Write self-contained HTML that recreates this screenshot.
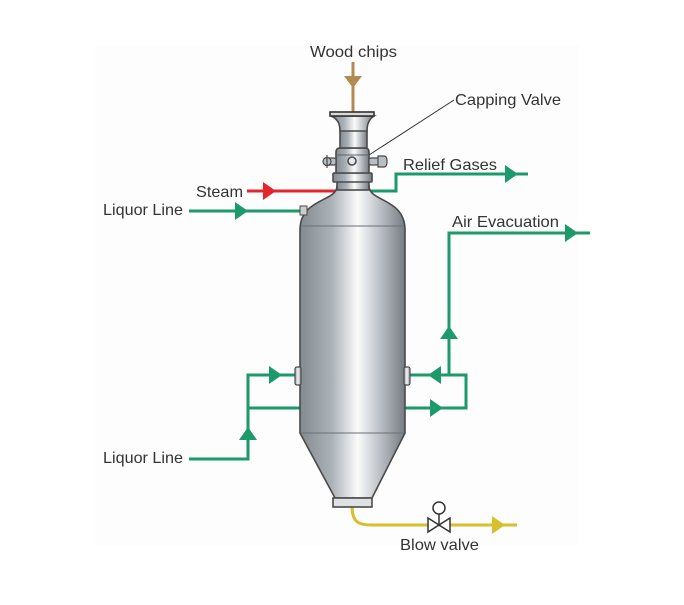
<!DOCTYPE html>
<html>
<head>
<meta charset="utf-8">
<style>
  html, body { margin:0; padding:0; background:#ffffff; }
  body { width:684px; height:600px; overflow:hidden; }
  svg text { font-family: "Liberation Sans", Arial, sans-serif; font-size:16px; fill:#333333; }
</style>
</head>
<body>
<svg width="684" height="600" viewBox="0 0 684 600" xmlns="http://www.w3.org/2000/svg">
  <defs>
    <linearGradient id="metal" x1="0" y1="0" x2="1" y2="0">
      <stop offset="0" stop-color="#838a91"/>
      <stop offset="0.3" stop-color="#aab1b7"/>
      <stop offset="0.55" stop-color="#fbfbfb"/>
      <stop offset="0.7" stop-color="#cdd2d6"/>
      <stop offset="1" stop-color="#747b82"/>
    </linearGradient>
    <linearGradient id="metal2" x1="0" y1="0" x2="1" y2="0">
      <stop offset="0" stop-color="#9aa1a7"/>
      <stop offset="0.5" stop-color="#f4f5f6"/>
      <stop offset="1" stop-color="#8a9197"/>
    </linearGradient>
  </defs>

  <rect x="95" y="45" width="484" height="500" fill="#fdfdfd"/>

  <!-- ===== Pipes (drawn under vessel) ===== -->
  <g fill="none" stroke-width="3" stroke-linejoin="miter">
    <line x1="353" y1="62" x2="353" y2="113" stroke="#b48a52"/>
    <line x1="247" y1="191" x2="338" y2="191" stroke="#e4262b"/>
    <line x1="189" y1="211" x2="302" y2="211" stroke="#1d9a6c"/>
    <polyline points="368,191 396,191 396,174 528,174" stroke="#1d9a6c"/>
    <polyline points="449,375 449,233 590,233" stroke="#1d9a6c"/>
    <polyline points="408,375 466,375 466,408 403,408" stroke="#1d9a6c"/>
    <polyline points="189,459 248,459 248,375 297,375" stroke="#1d9a6c"/>
    <line x1="248" y1="408" x2="302" y2="408" stroke="#1d9a6c"/>
    <path d="M352,506 C352,522 358,525 372,525 L517,525" stroke="#d8bf2c"/>
  </g>

  <!-- ===== Arrowheads ===== -->
  <g>
    <polygon points="344,76 362,76 353,88" fill="#b48a52"/>
    <polygon points="263,182 263,200 276,191" fill="#e4262b"/>
    <g fill="#1d9a6c">
      <polygon points="235,202 235,220 248,211"/>
      <polygon points="505,165 505,183 518,174"/>
      <polygon points="565,224 565,242 578,233"/>
      <polygon points="440,339 458,339 449,326"/>
      <polygon points="441,366 441,384 428,375"/>
      <polygon points="430,399 430,417 443,408"/>
      <polygon points="269,366 269,384 282,375"/>
      <polygon points="239,440 257,440 248,427"/>
    </g>
    <polygon points="492,516 492,534 505,525" fill="#d8bf2c"/>
  </g>

  <!-- ===== Vessel ===== -->
  <g stroke="#4a4a4a" stroke-width="1.6">
    <path d="M337,186 C337,202 300,198 300,230 L300,433 L335,498 L372,498 L405,433 L405,230 C405,198 369,202 369,186 Z" fill="url(#metal)"/>
    <line x1="302" y1="226" x2="403" y2="226" stroke="#6a7077" stroke-width="1"/>
    <line x1="301" y1="433" x2="404" y2="433" stroke="#6a7077" stroke-width="1"/>
    <rect x="333" y="498" width="39" height="9" fill="#dfe1e3"/>
    <rect x="337" y="181" width="32" height="9" fill="url(#metal)"/>
    <rect x="333" y="173" width="39" height="9" rx="1" fill="url(#metal)"/>
    <path d="M336,173 L336,152 Q336,148 340,148 L365,148 Q369,148 369,152 L369,173 Z" fill="url(#metal)"/>
    <line x1="336" y1="155" x2="369" y2="155" stroke="#5a6066" stroke-width="1"/>
    <circle cx="352" cy="161" r="4" fill="#e8eaec"/>
    <rect x="340" y="130" width="27" height="18" fill="url(#metal)"/>
    <path d="M331,116 C338,119 340,124 340,131 L367,131 C367,124 369,119 374,116 Z" fill="url(#metal)"/>
    <rect x="330" y="112" width="44" height="4" fill="#d8dadc" stroke="#333"/>
    <rect x="295" y="367" width="6" height="18" rx="2" fill="url(#metal2)" stroke-width="1.2"/>
    <rect x="404" y="367" width="6" height="18" rx="2" fill="url(#metal2)" stroke-width="1.2"/>
    <rect x="300" y="206" width="7" height="9" fill="#c9cdd0" stroke-width="1"/>
  </g>

  <!-- handwheels on capping valve -->
  <g stroke="#4a4a4a" stroke-width="1.2" fill="#b9bec3">
    <rect x="324" y="158" width="12" height="7" rx="2"/>
    <circle cx="327" cy="161.5" r="4"/>
    <line x1="327" y1="155" x2="327" y2="168"/>
    <rect x="369" y="158" width="10" height="7" rx="2"/>
    <path d="M378,156 L384,156 Q387,156 387,161.5 Q387,167 384,167 L378,167 Z"/>
  </g>

  <!-- leader line -->
  <line x1="454" y1="100" x2="369" y2="155" stroke="#333" stroke-width="1"/>

  <!-- blow valve -->
  <g stroke="#333" stroke-width="1.5" fill="#ffffff">
    <line x1="439" y1="514" x2="439" y2="525"/>
    <polygon points="428,518 428,532 439,525"/>
    <polygon points="450,518 450,532 439,525"/>
    <circle cx="439" cy="508" r="6"/>
  </g>

  <!-- ===== Labels ===== -->
  <text x="310" y="57" textLength="87" lengthAdjust="spacingAndGlyphs">Wood chips</text>
  <text x="455" y="105" textLength="106" lengthAdjust="spacingAndGlyphs">Capping Valve</text>
  <text x="403" y="170" textLength="94" lengthAdjust="spacingAndGlyphs">Relief Gases</text>
  <text x="196" y="197" textLength="47" lengthAdjust="spacingAndGlyphs">Steam</text>
  <text x="103" y="215" textLength="80" lengthAdjust="spacingAndGlyphs">Liquor Line</text>
  <text x="452" y="227" textLength="107" lengthAdjust="spacingAndGlyphs">Air Evacuation</text>
  <text x="103" y="463" textLength="80" lengthAdjust="spacingAndGlyphs">Liquor Line</text>
  <text x="400" y="550" textLength="79" lengthAdjust="spacingAndGlyphs">Blow valve</text>
</svg>
</body>
</html>
